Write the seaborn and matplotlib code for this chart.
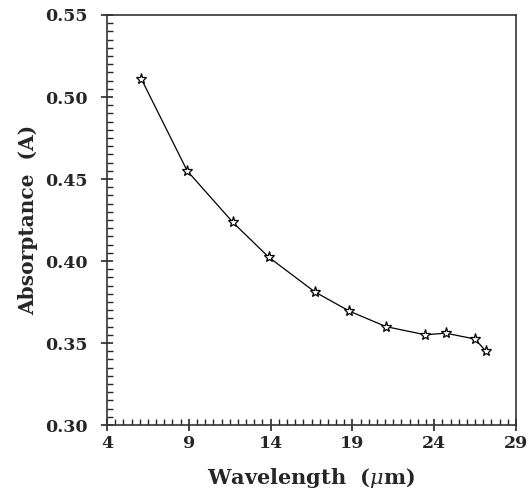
import matplotlib
matplotlib.use("Agg")
import matplotlib.pyplot as plt
import seaborn as sns
import pandas as pd
from matplotlib.ticker import MultipleLocator, FormatStrFormatter

wavelength = [6.1, 8.9, 11.7, 13.9, 16.7, 18.8, 21.05, 23.45, 24.7, 26.5, 27.15]
absorptance = [0.511, 0.455, 0.4235, 0.4022, 0.3812, 0.3695, 0.360, 0.355, 0.356, 0.3524, 0.3451]
x_ticks = [4, 9, 14, 19, 24, 29]
y_ticks = [0.30, 0.35, 0.40, 0.45, 0.50, 0.55]

sns.set_style("ticks")
plt.rcParams['font.family'] = ['DejaVu Serif']
plt.rcParams['mathtext.fontset'] = 'dejavuserif'

df = pd.DataFrame({"Wavelength": wavelength, "Absorptance": absorptance})

fig = plt.figure(figsize=(5.29, 4.90), dpi=100)
ax = fig.add_axes([107/529, 1-425/490, (516-107)/529, (425-15)/490])

sns.lineplot(data=df, x="Wavelength", y="Absorptance", ax=ax, color="black",
             linewidth=0.9, marker="*", markersize=8, markerfacecolor="white",
             markeredgecolor="black", markeredgewidth=0.9, sort=False)

ax.set_xlim(4, 29)
ax.set_ylim(0.30, 0.55)
ax.set_xticks(x_ticks)
ax.set_yticks(y_ticks)
ax.yaxis.set_major_formatter(FormatStrFormatter('%.2f'))
ax.xaxis.set_minor_locator(MultipleLocator(0.5))
ax.yaxis.set_minor_locator(MultipleLocator(0.005))
ax.tick_params(which='major', direction='inout', length=8, width=1.2, labelsize=12.5,
               top=False, right=False)
ax.tick_params(axis='y', which='major', pad=10)
ax.tick_params(axis='x', which='major', pad=3)
ax.tick_params(which='minor', direction='in', length=4, width=1.0, top=False, right=False)
for lab in ax.get_xticklabels() + ax.get_yticklabels():
    lab.set_fontweight('bold')
for s in ax.spines.values():
    s.set_linewidth(1.2)
    s.set_color('#333333')

ax.set_xlabel(r"Wavelength  ($\mu$m)", fontsize=15, fontweight='bold', labelpad=10)
ax.set_ylabel("Absorptance  (A)", fontsize=14.5, fontweight='bold', labelpad=5)

fig.savefig("out.png", dpi=100)
